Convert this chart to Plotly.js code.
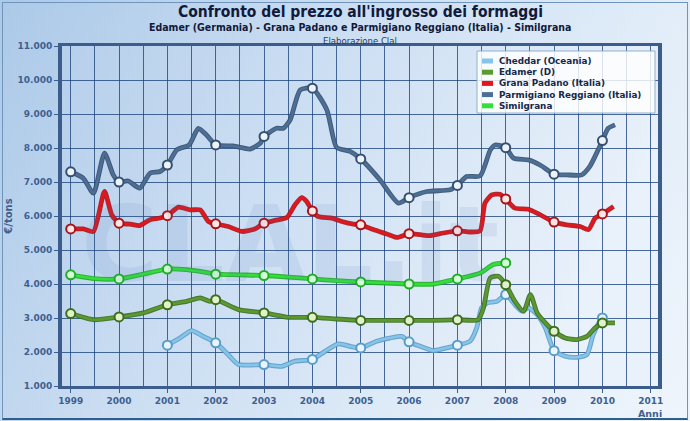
<!DOCTYPE html>
<html>
<head>
<meta charset="utf-8">
<script src="https://cdn.plot.ly/plotly-3.0.1.min.js"></script>
<style>
html,body{margin:0;padding:0;}
#wrap{position:relative;width:690px;height:421px;overflow:hidden;
 background:linear-gradient(120deg,#abc9e8 0%,#c9dcf1 35%,#e0ecf8 70%,#eff5fc 100%);}
#frame{position:absolute;left:2px;top:2px;width:684px;height:415px;border:1px solid #6f95bd;border-bottom:2px solid #2e5f8c;pointer-events:none;}
#chart{position:absolute;left:0;top:0;width:690px;height:421px;}
</style>
</head>
<body>
<div id="wrap"><div id="chart"></div><div id="frame"></div></div>
<script>
// ---- data ----
const years = [1999,2000,2001,2002,2003,2004,2005,2006,2007,2008,2009,2010,2011];
const yearLabels = ["1999","2000","2001","2002","2003","2004","2005","2006","2007","2008","2009","2010","2011"];
const seriesNames = ["Cheddar (Oceania)","Edamer (D)","Grana Padano (Italia)","Parmigiano Reggiano (Italia)","Similgrana"];

const cheddarX = [2001.0,2001.26,2001.5,2001.74,2002.0,2002.26,2002.47,2003.0,2003.37,2003.64,2004.0,2004.26,2004.54,2004.8,2005.0,2005.33,2005.6,2005.85,2006.0,2006.23,2006.5,2006.71,2007.0,2007.26,2007.4,2007.5,2007.61,2007.82,2008.0,2008.19,2008.33,2008.47,2008.65,2008.82,2009.0,2009.23,2009.47,2009.68,2009.81,2010.0,2010.1];
const cheddarY = [2200,2410,2630,2460,2270,1920,1630,1630,1580,1730,1780,2020,2240,2160,2120,2315,2410,2460,2300,2170,2040,2100,2200,2315,2710,3300,3440,3490,3690,3390,3200,3300,3100,2710,2040,1875,1845,1925,2510,3000,2920];

const edamerX = [1999.0,1999.47,2000.0,2000.5,2001.0,2001.4,2001.68,2001.88,2002.0,2002.47,2003.0,2003.5,2004.0,2004.5,2005.0,2005.5,2006.0,2006.5,2007.0,2007.43,2007.54,2007.68,2007.85,2008.0,2008.19,2008.37,2008.51,2008.65,2008.82,2009.0,2009.23,2009.47,2009.68,2009.85,2010.0,2010.16,2010.26];
const edamerY = [3130,2950,3030,3150,3390,3490,3590,3490,3540,3245,3150,3020,3020,2970,2930,2930,2930,2930,2950,2950,3300,4180,4225,3980,3490,3195,3690,3150,2855,2610,2415,2365,2460,2710,2855,2855,2855];

const granaX = [1999.0,1999.26,1999.47,1999.70,1999.85,2000.0,2000.23,2000.43,2000.64,2000.85,2001.0,2001.23,2001.47,2001.68,2001.85,2002.0,2002.26,2002.54,2002.81,2003.0,2003.23,2003.47,2003.64,2003.78,2003.88,2004.0,2004.12,2004.4,2004.61,2004.85,2005.0,2005.26,2005.54,2005.75,2006.0,2006.23,2006.43,2006.71,2007.0,2007.26,2007.47,2007.57,2007.71,2007.88,2008.0,2008.19,2008.47,2008.68,2009.0,2009.26,2009.54,2009.71,2009.85,2010.0,2010.23];
const granaY = [5620,5620,5545,6720,6030,5790,5760,5720,5890,5940,6010,6260,6180,6180,5840,5770,5690,5545,5620,5790,5870,5955,6330,6540,6430,6150,5985,5940,5840,5760,5740,5600,5470,5370,5480,5450,5420,5500,5565,5530,5565,6380,6620,6640,6500,6230,6200,6060,5820,5740,5690,5600,5940,6060,6280];

const parmX = [1999.0,1999.26,1999.47,1999.70,1999.88,2000.0,2000.19,2000.43,2000.64,2000.85,2001.0,2001.2,2001.45,2001.64,2001.81,2002.0,2002.36,2002.71,2002.92,2003.0,2003.26,2003.4,2003.54,2003.75,2004.0,2004.3,2004.5,2004.78,2005.0,2005.4,2005.78,2006.0,2006.37,2006.85,2007.0,2007.19,2007.47,2007.68,2007.78,2008.0,2008.16,2008.47,2008.71,2009.0,2009.26,2009.57,2009.74,2009.91,2010.0,2010.12,2010.26];
const parmY = [7300,7110,6670,7850,7210,7000,7030,6820,7260,7310,7500,7950,8090,8580,8380,8090,8060,7970,8140,8340,8580,8580,8830,9710,9760,9120,8020,7900,7680,7060,6380,6540,6720,6770,6900,7160,7180,7940,8090,8010,7700,7650,7500,7230,7210,7210,7460,7940,8220,8580,8680];

const simX = [1999.0,1999.47,2000.0,2000.5,2001.0,2001.4,2001.88,2002.0,2002.5,2003.0,2003.5,2004.0,2004.5,2005.0,2005.5,2006.0,2006.5,2007.0,2007.47,2007.74,2008.0];
const simY = [4270,4160,4150,4290,4440,4420,4320,4290,4270,4250,4205,4150,4100,4060,4030,4000,4000,4150,4320,4570,4620];

// ---- styles ----
const styles = [
  {line:"#86c4ea", edge:"#5b9cc6", fill:"#e6f5ff"},
  {line:"#5b9a2e", edge:"#3d6d1e", fill:"#e2f2c8"},
  {line:"#e2161c", edge:"#a8141a", fill:"#ffe4e4"},
  {line:"#4d6f96", edge:"#344f70", fill:"#eef3f9"},
  {line:"#33e03a", edge:"#1fae26", fill:"#d4ffd4"}
];
const allX = [cheddarX, edamerX, granaX, parmX, simX];
const allY = [cheddarY, edamerY, granaY, parmY, simY];

const traces = [];
allX.forEach((xs, i) => {
  const ys = allY[i], st = styles[i];
  traces.push({x:xs, y:ys, mode:"lines", line:{color:st.edge, width:4.8, shape:"spline", smoothing:0.6},
    showlegend:false, hoverinfo:"skip", opacity:0.9});
  traces.push({x:xs, y:ys, mode:"lines", line:{color:st.line, width:2.6, shape:"spline", smoothing:0.6},
    showlegend:false, name:seriesNames[i]});
  const mx = [], my = [];
  xs.forEach((v, k) => { if (Number.isInteger(v)) { mx.push(v); my.push(ys[k]); } });
  traces.push({x:mx, y:my, mode:"markers", showlegend:false, hoverinfo:"skip",
    marker:{size:9, color:st.fill, line:{color:st.edge, width:2}}});
});

// plot area in pixels: left 62, right 658, top 46, bottom 386
const px = X => (X - 62) / 596;
const py = Y => (386 - Y) / 340;

const svgBg = '<svg xmlns="http://www.w3.org/2000/svg" width="600" height="340" preserveAspectRatio="none">' +
  '<defs><linearGradient id="g" x1="0" y1="0" x2="1" y2="0.3">' +
  '<stop offset="0" stop-color="#b6cfeb"/><stop offset="0.5" stop-color="#d0e1f4"/><stop offset="1" stop-color="#e9f1fa"/></linearGradient></defs>' +
  '<rect width="600" height="340" fill="url(#g)"/></svg>';
const bgUri = "data:image/svg+xml;base64," + btoa(svgBg);

// manual compact legend
const shapes = [{type:"rect", xref:"paper", yref:"paper", x0:px(477), x1:px(655), y0:py(113), y1:py(51),
  fillcolor:"rgba(255,255,255,0.82)", line:{color:"#8fb0d0", width:1}}];
const legendAnn = [];
seriesNames.forEach((n, i) => {
  const Y = 61 + i * 11.2;
  shapes.push({type:"line", xref:"paper", yref:"paper", x0:px(482), x1:px(493), y0:py(Y), y1:py(Y),
    line:{color:styles[i].line, width:5}});
  legendAnn.push({text:n, xref:"paper", yref:"paper", x:px(497), y:py(Y), xanchor:"left", yanchor:"middle",
    showarrow:false, font:{family:"DejaVu Sans", size:8.8, color:"#14284a", weight:"bold"}});
});

const tickFont = {family:"DejaVu Sans", size:9, color:"#3f5f90", weight:"bold"};
const layout = {
  width:690, height:421,
  margin:{l:62, r:32, t:46, b:35},
  paper_bgcolor:"rgba(0,0,0,0)", plot_bgcolor:"rgba(0,0,0,0)",
  separators:",.",
  showlegend:false,
  xaxis:{range:[1998.82, 2011.15], tickmode:"array", tickvals:years, ticktext:yearLabels,
    showgrid:true, gridcolor:"rgba(30,70,125,0.8)", gridwidth:1,
    minor:{tickmode:"linear", tick0:1999.5, dtick:1, showgrid:true, gridcolor:"rgba(30,70,125,0.8)", gridwidth:1},
    ticks:"outside", ticklen:4, tickcolor:"#3c5c8c", tickfont:tickFont,
    showline:true, linecolor:"#3c5c8c", linewidth:3, mirror:true, zeroline:false, fixedrange:true},
  yaxis:{range:[1000, 11000], dtick:1000, tick0:1000, tickformat:",d",
    showgrid:true, gridcolor:"rgba(30,70,125,0.8)", gridwidth:1,
    ticks:"outside", ticklen:4, tickcolor:"#3c5c8c", tickfont:tickFont,
    showline:true, linecolor:"#3c5c8c", linewidth:4, mirror:true, zeroline:false,
    title:{text:"€/tons", font:{family:"DejaVu Sans", size:10, color:"#3f5f90", weight:"bold"}, standoff:4}},
  images:[{source:bgUri, xref:"paper", yref:"paper", x:0, y:1, sizex:1, sizey:1, sizing:"stretch", layer:"below", xanchor:"left", yanchor:"top"}],
  shapes:shapes,
  annotations:[
    {text:"CLAL.it", xref:"paper", yref:"paper", x:px(290), y:py(245), xanchor:"center", yanchor:"middle", showarrow:false,
     font:{family:"DejaVu Sans", size:105, color:"rgba(70,110,175,0.10)", weight:"bold"}},
    {text:"Confronto del prezzo all'ingrosso dei formaggi", xref:"paper", yref:"paper", x:0.5, y:1, yanchor:"middle", yshift:34, showarrow:false,
     font:{family:"DejaVu Sans Condensed, DejaVu Sans", size:15.5, color:"#101a3c", weight:"bold"}},
    {text:"Edamer (Germania) - Grana Padano e Parmigiano Reggiano (Italia) - Similgrana", xref:"paper", yref:"paper", x:0.5, y:1, yanchor:"middle", yshift:19, showarrow:false,
     font:{family:"DejaVu Sans Condensed, DejaVu Sans", size:10.5, color:"#101a3c", weight:"bold"}},
    {text:"Elaborazione Clal", xref:"paper", yref:"paper", x:0.5, y:1, yanchor:"middle", yshift:6, showarrow:false,
     font:{family:"DejaVu Sans Condensed, DejaVu Sans", size:9.5, color:"#2a3a5a"}},
    {text:"Anni", xref:"paper", yref:"paper", x:1, y:0, xanchor:"center", yanchor:"middle", yshift:-27, xshift:-8, showarrow:false,
     font:{family:"DejaVu Sans", size:9.5, color:"#3f5f90", weight:"bold"}}
  ].concat(legendAnn)
};
Plotly.newPlot("chart", traces, layout, {staticPlot:true, displayModeBar:false});
</script>
</body>
</html>
